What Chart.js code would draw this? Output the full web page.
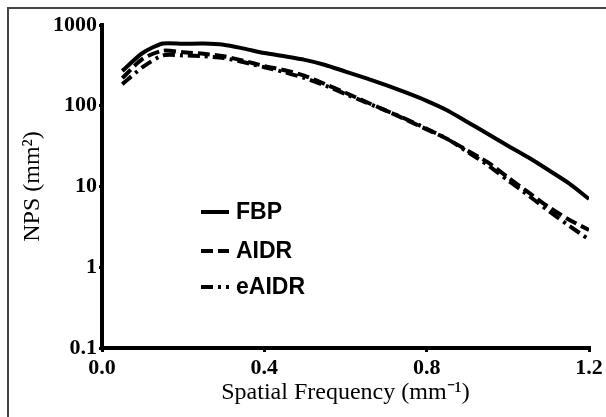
<!DOCTYPE html>
<html>
<head>
<meta charset="utf-8">
<script src="https://cdn.jsdelivr.net/npm/chart.js@4.4.1/dist/chart.umd.min.js"></script>
<style>
  body { margin: 0; background: #fff; }
  #wrap { position: relative; width: 606px; height: 417px; }
  #frame { position: absolute; left: 7px; top: 7px; right: 0; bottom: 0;
           border-top: 2px solid #444; border-left: 2px solid #444; }
  canvas { position: absolute; left: 0; top: 0; }
</style>
</head>
<body>
<div id="wrap">
  <div id="frame"></div>
  <canvas id="myChart" width="606" height="417"></canvas>
</div>
<script>
// spatial frequency (mm^-1)
const freqs = [0.05, 0.10, 0.15, 0.20, 0.25, 0.30, 0.35, 0.40, 0.45, 0.50, 0.55, 0.60,
               0.65, 0.70, 0.75, 0.80, 0.85, 0.90, 0.95, 1.00, 1.05, 1.10, 1.15, 1.20];

// NPS (mm^2)
const fbp   = [270, 450, 590, 585, 590, 570, 510, 450, 410, 370, 320, 265,
               220, 180, 145, 115, 88, 63, 45, 32, 23, 16, 11, 7];
const aidr  = [220, 380, 480, 460, 440, 410, 360, 310, 275, 235, 185, 145,
               112, 87, 67, 51, 39, 28, 20, 13, 8.5, 5.6, 3.9, 2.9];
const eaidr = [185, 300, 420, 420, 410, 390, 345, 300, 260, 220, 178, 140,
               110, 87, 68, 52, 39, 27, 18.5, 12, 7.8, 5.0, 3.3, 2.2];

const seriesNames = ['FBP', 'AIDR', 'eAIDR'];
const yTicks = [0.1, 1, 10, 100, 1000];
const xTicks = [0.0, 0.4, 0.8, 1.2];

const dashes = [[], [12, 5], [12, 5, 3, 5]];

function pts(vals) {
  return freqs.map((f, i) => ({x: f, y: vals[i]}));
}

const datasets = [fbp, aidr, eaidr].map((vals, i) => ({
  label: seriesNames[i],
  data: pts(vals),
  borderColor: '#000',
  borderWidth: 4,
  borderDash: dashes[i],
  pointRadius: 0,
  tension: 0.25,
  fill: false
}));

// legend drawn inside the plot, like the original figure
const innerLegend = {
  id: 'innerLegend',
  afterDatasetsDraw(chart) {
    const ctx = chart.ctx;
    const rows = [212, 251, 287];
    ctx.save();
    chart.data.datasets.forEach((ds, i) => {
      ctx.strokeStyle = '#000';
      ctx.lineWidth = 4;
      ctx.setLineDash(ds.borderDash);
      ctx.beginPath();
      ctx.moveTo(201, rows[i]);
      ctx.lineTo(229, rows[i]);
      ctx.stroke();
      ctx.setLineDash([]);
      ctx.fillStyle = '#000';
      ctx.font = 'bold 23px "Liberation Sans", Arial, sans-serif';
      ctx.textBaseline = 'middle';
      ctx.fillText(ds.label, 236, rows[i] + 1);
    });
    ctx.restore();
  }
};

const serif = '"Liberation Serif", "Times New Roman", serif';

const myChart = document.getElementById('myChart');

let lineChart = new Chart(myChart, {
  type: 'line',
  data: { datasets: datasets },
  options: {
    responsive: false,
    animation: false,
    layout: { padding: { left: 18, right: 17, top: 25, bottom: 0 } },
    plugins: { legend: { display: false }, tooltip: { enabled: false } },
    scales: {
      x: {
        type: 'linear',
        min: 0,
        max: 1.2,
        afterBuildTicks: axis => { axis.ticks = xTicks.map(v => ({value: v})); },
        afterFit: axis => { axis.height = 69; },
        border: { color: '#000', width: 4 },
        grid: { drawOnChartArea: false, color: '#000', tickLength: 4, lineWidth: 3 },
        ticks: {
          color: '#000',
          font: { family: serif, size: 22, weight: 'bold' },
          padding: 3,
          maxRotation: 0,
          callback: v => v.toFixed(1)
        },
        title: {
          display: true,
          text: 'Spatial Frequency (mm\u207B\u00B9)',
          color: '#000',
          font: { family: serif, size: 24 },
          padding: { top: 0, bottom: 10 }
        }
      },
      y: {
        type: 'logarithmic',
        min: 0.1,
        max: 1000,
        afterBuildTicks: axis => { axis.ticks = yTicks.map(v => ({value: v})); },
        afterFit: axis => { axis.width = 84; },
        border: { color: '#000', width: 4 },
        grid: { drawOnChartArea: false, color: '#000', tickLength: 3, lineWidth: 3 },
        ticks: {
          color: '#000',
          font: { family: serif, size: 22, weight: 'bold' },
          padding: 2,
          callback: v => String(v)
        },
        title: {
          display: true,
          text: 'NPS (mm\u00B2)',
          color: '#000',
          font: { family: serif, size: 24 },
          padding: { top: 0, bottom: 0 }
        }
      }
    }
  },
  plugins: [innerLegend]
});
</script>
</body>
</html>
